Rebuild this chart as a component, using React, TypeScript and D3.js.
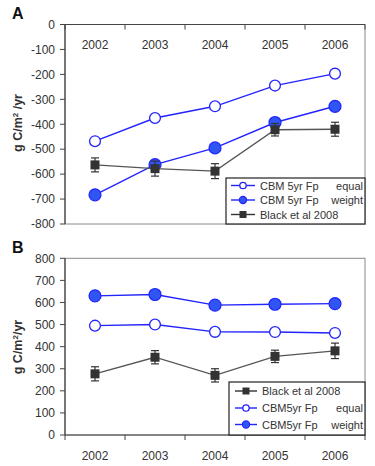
import React from "react";
import * as d3 from "d3";

const years = ["2002", "2003", "2004", "2005", "2006"];
const aEqual = [-468, -375, -328, -245, -197];
const aWeight = [-683, -562, -495, -393, -328];
const aBlack = [-563, -578, -588, -422, -420];
const aBlackErr = [28, 30, 30, 25, 28];
const bWeight = [630, 636, 588, 592, 595];
const bEqual = [495, 500, 467, 466, 462];
const bBlack = [277, 352, 270, 356, 381];
const bBlackErr = [32, 30, 30, 28, 35];

const FONT = "'Liberation Sans', Arial, sans-serif";
const BLUE = "#2323ff";
const BLUE_FILL = "#2f55f2";
const DARK = "#333";
const AXIS = "#444";

type Series = { values: number[]; kind: "open" | "filled" | "square"; err?: number[] };

function Marker({ kind, x, y, small }: { kind: string; x: number; y: number; small?: boolean }) {
  if (kind === "open")
    return <circle cx={x} cy={y} r={small ? 3.2 : 5.4} fill="#fff" stroke={BLUE} strokeWidth={1.3} />;
  if (kind === "filled")
    return <circle cx={x} cy={y} r={small ? 3.6 : 6} fill={BLUE_FILL} stroke={BLUE} strokeWidth={1.2} />;
  const s = small ? 7 : 9;
  return <rect x={x - s / 2} y={y - s / 2} width={s} height={s} fill={DARK} />;
}

function Panel({
  label, labelY, domain, yTop, yBottom, xAxisAtTop, series, legend, legendBox, yTitle, yTitleY,
}: {
  label: string; labelY: number; domain: [number, number]; yTop: number; yBottom: number;
  xAxisAtTop: boolean; series: Series[];
  legend: { kind: string; t1: string; t2: string }[];
  legendBox: { x0: number; x1: number; y0: number; rows: number[]; lx0: number; lx1: number; tx: number; t2x: number };
  yTitle: React.ReactNode; yTitleY: number;
}) {
  const left = 65, right = 365;
  const x = d3.scaleBand<string>().domain(years).range([left, right]).padding(0);
  const cx = (d: string) => (x(d) as number) + x.bandwidth() / 2;
  const y = d3.scaleLinear().domain(domain).range([yBottom, yTop]);
  const ticks = y.ticks(8);
  const axisY = y(0);
  const bounds = [...years.map((d) => x(d) as number), right];
  const lineGen = (vals: number[]) =>
    d3.line<number>().x((_, i) => cx(years[i])).y((v) => y(v))(vals) as string;

  return (
    <g>
      <text x={12} y={labelY} fontSize={16} fontWeight="bold" fill="#111" fontFamily={FONT}>{label}</text>
      <rect x={left} y={yTop} width={right - left} height={yBottom - yTop} fill="none" stroke="#8a8a8a" strokeWidth={1} />
      <line x1={left} x2={left} y1={yTop} y2={yBottom} stroke={AXIS} strokeWidth={1.2} />
      {ticks.map((t) => (
        <g key={t}>
          <line x1={left - 5} x2={left} y1={y(t)} y2={y(t)} stroke={AXIS} strokeWidth={1} />
          <text x={55} y={y(t) + 4.3} textAnchor="end" fontSize={12} fill={DARK} fontFamily={FONT}>{t}</text>
        </g>
      ))}
      <line x1={left} x2={right} y1={axisY} y2={axisY} stroke={AXIS} strokeWidth={1.2} />
      {bounds.map((b, i) => (
        <line key={i} x1={b} x2={b} y1={axisY} y2={axisY + 5} stroke={AXIS} strokeWidth={1} />
      ))}
      {years.map((d) => (
        <text key={d} x={cx(d)} y={xAxisAtTop ? axisY + 24 : axisY + 24.5} textAnchor="middle" fontSize={12} fill={DARK} fontFamily={FONT}>{d}</text>
      ))}
      <text transform={`translate(22,${yTitleY}) rotate(-90)`} textAnchor="middle" fontSize={12.5} fontWeight="bold" fill={DARK} fontFamily={FONT}>{yTitle}</text>
      {series.map((s, si) => (
        <g key={si}>
          <path d={lineGen(s.values)} fill="none" stroke={s.kind === "square" ? "#555" : BLUE} strokeWidth={s.kind === "square" ? 1.3 : 1.4} />
          {s.err && s.values.map((v, i) => (
            <g key={"e" + i} stroke={DARK} strokeWidth={1.2}>
              <line x1={cx(years[i])} x2={cx(years[i])} y1={y(v - s.err![i])} y2={y(v + s.err![i])} />
              <line x1={cx(years[i]) - 4} x2={cx(years[i]) + 4} y1={y(v - s.err![i])} y2={y(v - s.err![i])} />
              <line x1={cx(years[i]) - 4} x2={cx(years[i]) + 4} y1={y(v + s.err![i])} y2={y(v + s.err![i])} />
            </g>
          ))}
          {s.values.map((v, i) => <Marker key={i} kind={s.kind} x={cx(years[i])} y={y(v)} />)}
        </g>
      ))}
      <rect x={legendBox.x0} y={legendBox.y0} width={legendBox.x1 - legendBox.x0} height={yBottom - legendBox.y0} fill="#fff" stroke="#222" strokeWidth={1.2} />
      {legend.map((l, i) => {
        const ry = legendBox.rows[i];
        return (
          <g key={i}>
            <line x1={legendBox.lx0} x2={legendBox.lx1} y1={ry} y2={ry} stroke={l.kind === "square" ? "#333" : BLUE} strokeWidth={1.4} />
            <Marker kind={l.kind} x={(legendBox.lx0 + legendBox.lx1) / 2} y={ry} small />
            <text x={legendBox.tx} y={ry + 4} fontSize={11} fill={DARK} fontFamily={FONT}>{l.t1}</text>
            {l.t2 && <text x={legendBox.t2x} y={ry + 4} textAnchor="end" fontSize={11} fill={DARK} fontFamily={FONT}>{l.t2}</text>}
          </g>
        );
      })}
    </g>
  );
}

export default function App() {
  return (
    <svg width={375} height={466} style={{ position: "absolute", left: 0, top: 0, background: "#fff" }}>
      <rect width={375} height={466} fill="#fff" />
      <Panel
        label="A" labelY={18.5} domain={[-800, 0]} yTop={24.5} yBottom={224} xAxisAtTop
        series={[
          { values: aEqual, kind: "open" },
          { values: aWeight, kind: "filled" },
          { values: aBlack, kind: "square", err: aBlackErr },
        ]}
        legend={[
          { kind: "open", t1: "CBM 5yr Fp", t2: "equal" },
          { kind: "filled", t1: "CBM 5yr Fp", t2: "weight" },
          { kind: "square", t1: "Black et al 2008", t2: "" },
        ]}
        legendBox={{ x0: 226, x1: 365, y0: 178, rows: [185.5, 200, 214.5], lx0: 231, lx1: 255, tx: 260, t2x: 363 }}
        yTitle={<>g C/m<tspan fontSize={8} dy={-4}>2</tspan><tspan dy={4}> /yr</tspan></>}
        yTitleY={123}
      />
      <Panel
        label="B" labelY={252.5} domain={[0, 800]} yTop={258.3} yBottom={435} xAxisAtTop={false}
        series={[
          { values: bWeight, kind: "filled" },
          { values: bEqual, kind: "open" },
          { values: bBlack, kind: "square", err: bBlackErr },
        ]}
        legend={[
          { kind: "square", t1: "Black et al 2008", t2: "" },
          { kind: "open", t1: "CBM5yr Fp", t2: "equal" },
          { kind: "filled", t1: "CBM5yr Fp", t2: "weight" },
        ]}
        legendBox={{ x0: 229, x1: 365, y0: 382, rows: [391, 408, 424.5], lx0: 235, lx1: 257, tx: 262, t2x: 363 }}
        yTitle={<>g C/m<tspan fontSize={8} dy={-4}>2</tspan><tspan dy={4}>/yr</tspan></>}
        yTitleY={347}
      />
    </svg>
  );
}
